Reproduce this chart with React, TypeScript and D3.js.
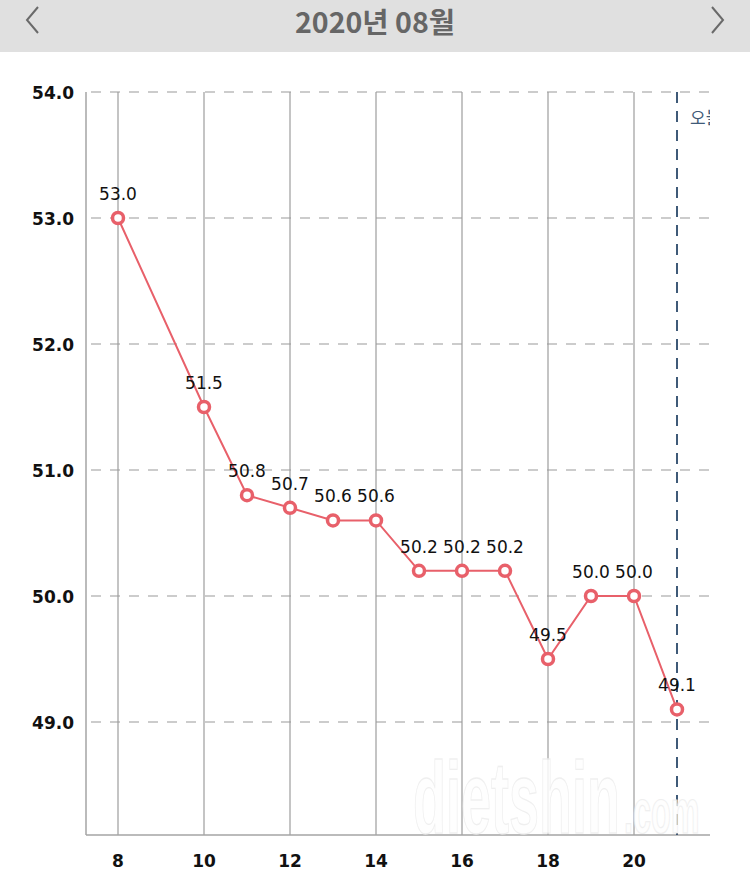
import React, { useEffect, useRef } from "react";
import * as d3 from "d3";

const title = "2020년 08월";
const days = [8, 10, 11, 12, 13, 14, 15, 16, 17, 18, 19, 20, 21];
const weights = [53.0, 51.5, 50.8, 50.7, 50.6, 50.6, 50.2, 50.2, 50.2, 49.5, 50.0, 50.0, 49.1];
const yTicks = [49, 50, 51, 52, 53, 54];
const xTicks = [8, 10, 12, 14, 16, 18, 20];
const todayDay = 21;
const todayLabel = "오늘";

export default function App() {
  const ref = useRef<SVGSVGElement>(null);
  useEffect(() => {
    document.body.style.margin = "0";
    const svg = d3.select(ref.current);
    svg.selectAll("*").remove();
    const W = 750, H = 888;
    const left = 86, right = 710, top = 92, bottom = 835;
    const x = d3.scaleLinear().domain([8, 20]).range([118, 634]);
    const y = d3.scaleLinear().domain([54, 49]).range([top, 722]);

    svg.append("rect").attr("width", W).attr("height", H).attr("fill", "#fff");
    // header
    svg.append("rect").attr("width", W).attr("height", 52).attr("fill", "#e0e0e0");
    svg.append("text").attr("x", 375).attr("y", 33).attr("text-anchor", "middle")
      .attr("font-family", "'Noto Sans CJK KR', 'Noto Sans', sans-serif").attr("font-size", 28)
      .attr("font-weight", 700).attr("fill", "#666").attr("textLength", 160).attr("lengthAdjust", "spacingAndGlyphs").text(title);
    const chev = (pts: [number, number][]) =>
      svg.append("path").attr("d", d3.line()(pts)).attr("fill", "none").attr("stroke", "#6a6a6a").attr("stroke-width", 2);
    chev([[38, 7], [27, 20], [38, 33]]);
    chev([[712, 7], [723, 20], [712, 33]]);

    const g = svg.append("g");
    // vertical grid
    g.selectAll(".vg").data(xTicks).join("line")
      .attr("x1", d => x(d)).attr("x2", d => x(d)).attr("y1", top).attr("y2", bottom)
      .attr("stroke", "#a5a5a5").attr("stroke-width", 1.3);
    // horizontal dashed grid
    g.selectAll(".hg").data(yTicks).join("line")
      .attr("x1", left).attr("x2", right).attr("y1", d => y(d)).attr("y2", d => y(d))
      .attr("stroke", "#9a9a9a").attr("stroke-width", 1.2).attr("stroke-dasharray", "10,9").attr("stroke-dashoffset", -5);
    // axes
    g.append("line").attr("x1", left).attr("x2", left).attr("y1", top).attr("y2", bottom).attr("stroke", "#a5a5a5").attr("stroke-width", 1.5);
    g.append("line").attr("x1", left).attr("x2", right).attr("y1", bottom).attr("y2", bottom).attr("stroke", "#a5a5a5").attr("stroke-width", 1.5);

    // watermark
    const wm = svg.append("g").attr("opacity", 0.85);
    wm.append("text").attr("transform", "translate(413,833) scale(0.6,1.25)")
      .attr("font-family", "'Liberation Sans Narrow', 'Liberation Sans', sans-serif").attr("font-weight", 700)
      .attr("font-size", 82).attr("fill", "#fefefe").attr("stroke", "#ededed").attr("stroke-width", 1)
      .attr("textLength", 345).attr("lengthAdjust", "spacingAndGlyphs")
      .text("dietshin");
    wm.append("text").attr("transform", "translate(624,833) scale(0.62,1.25)")
      .attr("font-family", "'Liberation Sans Narrow', 'Liberation Sans', sans-serif").attr("font-weight", 700)
      .attr("font-size", 50).attr("fill", "#fefefe").attr("stroke", "#ededed").attr("stroke-width", 1)
      .attr("textLength", 122).attr("lengthAdjust", "spacingAndGlyphs")
      .text(".com");

    // today line
    svg.append("defs").append("clipPath").attr("id", "clipR").append("rect")
      .attr("x", 0).attr("y", 0).attr("width", right).attr("height", H);
    g.append("line").attr("x1", x(todayDay)).attr("x2", x(todayDay)).attr("y1", top).attr("y2", bottom)
      .attr("stroke", "#3f5a78").attr("stroke-width", 2).attr("stroke-dasharray", "11,8");
    svg.append("text").attr("x", x(todayDay) + 13).attr("y", 124).attr("clip-path", "url(#clipR)")
      .attr("font-family", "'Noto Sans CJK KR', sans-serif").attr("font-size", 17).attr("fill", "#3f5a78").text(todayLabel);

    // axis labels
    const font = "'DejaVu Sans', sans-serif";
    svg.selectAll(".yl").data(yTicks).join("text")
      .attr("x", 74).attr("y", d => y(d) + 6.5).attr("text-anchor", "end")
      .attr("font-family", font).attr("font-size", 17).attr("font-weight", 700).attr("fill", "#111")
      .text(d => d.toFixed(1));
    svg.selectAll(".xl").data(xTicks).join("text")
      .attr("x", d => x(d)).attr("y", 867).attr("text-anchor", "middle")
      .attr("font-family", font).attr("font-size", 17).attr("font-weight", 700).attr("fill", "#111")
      .text(d => String(d));

    // line
    const pts = days.map((d, i) => [x(d), y(weights[i])] as [number, number]);
    svg.append("path").attr("d", d3.line()(pts)).attr("fill", "none").attr("stroke", "#e8606a").attr("stroke-width", 2);
    svg.selectAll(".pt").data(pts).join("circle")
      .attr("cx", d => d[0]).attr("cy", d => d[1]).attr("r", 5.5)
      .attr("fill", "#fff").attr("stroke", "#e8606a").attr("stroke-width", 3.5);
    svg.selectAll(".vl").data(days).join("text")
      .attr("x", (d) => x(d)).attr("y", (d, i) => y(weights[i]) - 18).attr("text-anchor", "middle")
      .attr("font-family", font).attr("font-size", 17).attr("fill", "#111")
      .text((d, i) => weights[i].toFixed(1));
  }, []);
  return <svg ref={ref} width={750} height={888} style={{ display: "block" }} />;
}
